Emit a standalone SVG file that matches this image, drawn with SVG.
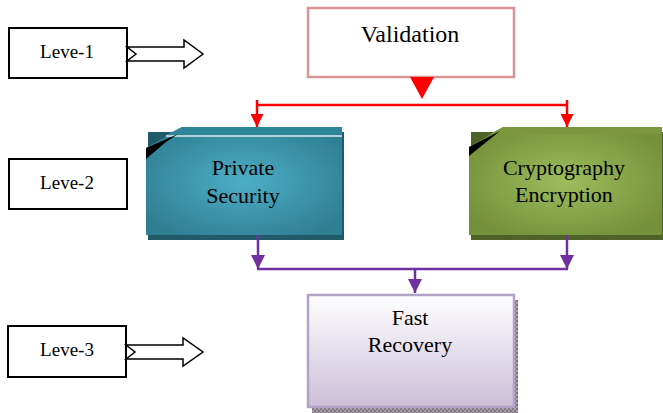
<svg xmlns="http://www.w3.org/2000/svg" width="663" height="413" viewBox="0 0 663 413">
<defs>
<style>
text{font-family:'Liberation Serif','Times New Roman',serif;fill:#000;text-anchor:middle}
.lvl{fill:#fff;stroke:#000;stroke-width:2}
.lt{font-size:19px}
.nt{font-size:22px}
.fat{fill:#fff;stroke:#000;stroke-width:1.5;stroke-linejoin:miter}
.red{stroke:#ff0000;stroke-width:2.5;fill:none}
.pur{stroke:#7030a0;stroke-width:2.5;fill:none}
</style>
<radialGradient id="gTeal" cx="0.5" cy="0.5" r="0.6">
<stop offset="0" stop-color="#4daec6"/>
<stop offset="1" stop-color="#2f7f93"/>
</radialGradient>
<radialGradient id="gGreen" cx="0.5" cy="0.5" r="0.6">
<stop offset="0" stop-color="#9dbd5b"/>
<stop offset="1" stop-color="#73903a"/>
</radialGradient>
<linearGradient id="gPurp" x1="0" y1="0" x2="0" y2="1">
<stop offset="0" stop-color="#ffffff"/>
<stop offset="1" stop-color="#cbbfd9"/>
</linearGradient>
<pattern id="hatch" width="4" height="4" patternUnits="userSpaceOnUse">
<rect width="4" height="4" fill="#a8a0a8"/>
<rect width="2" height="2" fill="#7d757d"/>
<rect x="2" y="2" width="2" height="2" fill="#7d757d"/>
</pattern>
<marker id="mRed" viewBox="0 0 10 10" refX="5" refY="10" markerWidth="13" markerHeight="14" markerUnits="userSpaceOnUse">
<path d="M0,0 L10,0 L5,10 Z" fill="#ff0000"/>
</marker>
<marker id="mPur" viewBox="0 0 10 10" refX="5" refY="10" markerWidth="14" markerHeight="15" markerUnits="userSpaceOnUse">
<path d="M0,0 L10,0 L5,10 Z" fill="#7030a0"/>
</marker>
</defs>

<g id="leve1">
<rect class="lvl" x="9" y="28" width="118" height="50"/>
<text class="lt" x="67" y="58">Leve-1</text>
<path class="fat" d="M127,47 L184,47 L184,40 L203,54 L184,68 L184,61 L127,61 L136,54 Z"/>
</g>
<g id="leve2">
<rect class="lvl" x="9" y="159" width="118" height="50"/>
<text class="lt" x="67" y="189">Leve-2</text>
</g>
<g id="leve3">
<rect class="lvl" x="8" y="326" width="118" height="51"/>
<text class="lt" x="67" y="356">Leve-3</text>
<path class="fat" d="M126,345 L183,345 L183,338 L203,352 L183,366 L183,359 L126,359 L135,352 Z"/>
</g>

<g id="validation">
<rect x="308" y="8" width="206" height="69" fill="#fff" stroke="#d99594" stroke-width="2.5"/>
<text x="410" y="42" style="font-size:24px">Validation</text>
</g>

<g id="private">
<rect x="148" y="132" width="196" height="108" fill="#215a69"/>
<polygon points="182,127 342,127 342,235 146,235 146,148" fill="url(#gTeal)"/>
<polygon points="182,127 342,127 342,135 166,135" fill="#2f8598"/>
<line x1="166" y1="136" x2="342" y2="136" stroke="#dcecf0" stroke-width="1.5"/>
<polygon points="146,148 178,134 166,142 146,159" fill="#000"/>
<text class="nt" x="243" y="175">Private</text>
<text class="nt" x="243" y="203">Security</text>
</g>

<g id="crypto">
<rect x="471" y="132" width="192" height="108" fill="#4f6228"/>
<polygon points="503,127 662,127 662,235 469,235 469,147" fill="url(#gGreen)"/>
<polygon points="503,127 662,127 662,134 490,134" fill="#7a963f"/>
<polygon points="469,147 500,131 490,139 469,156" fill="#000"/>
<text class="nt" x="564" y="175">Cryptography</text>
<text class="nt" x="564" y="202">Encryption</text>
</g>

<g id="fast">
<rect x="312" y="300" width="206" height="113" fill="url(#hatch)"/>
<rect x="308" y="295" width="206" height="112" fill="url(#gPurp)" stroke="#b3a2c7" stroke-width="2.5"/>
<text class="nt" x="410" y="325">Fast</text>
<text class="nt" x="410" y="352">Recovery</text>
</g>

<g id="connectors">
<polygon points="410,77 434,77 422,99" fill="#ff0000"/>
<line class="red" x1="257" y1="105" x2="567" y2="105"/>
<line class="red" x1="257" y1="100" x2="257" y2="127" marker-end="url(#mRed)"/>
<line class="red" x1="567" y1="100" x2="567" y2="127" marker-end="url(#mRed)"/>
<line class="pur" x1="258" y1="235" x2="258" y2="269" marker-end="url(#mPur)"/>
<line class="pur" x1="567" y1="235" x2="567" y2="269" marker-end="url(#mPur)"/>
<line class="pur" x1="257" y1="269" x2="568" y2="269"/>
<line class="pur" x1="415" y1="269" x2="415" y2="293" marker-end="url(#mPur)"/>
</g>
</svg>
